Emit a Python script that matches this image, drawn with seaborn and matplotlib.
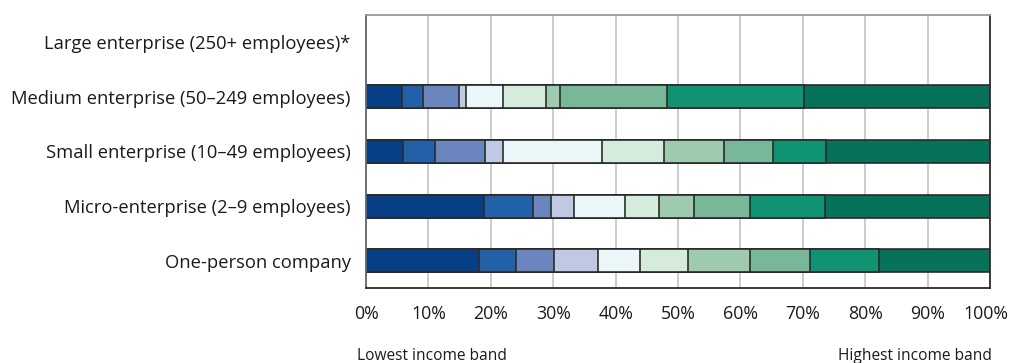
import numpy as np
import pandas as pd
import matplotlib
matplotlib.use("Agg")
import matplotlib.pyplot as plt
import matplotlib.transforms as mtransforms
import seaborn as sns

# Share of each company-size group falling in each income band (%), lowest to highest
categories = [
    "Large enterprise (250+ employees)*",
    "Medium enterprise (50\u2013249 employees)",
    "Small enterprise (10\u201349 employees)",
    "Micro-enterprise (2\u20139 employees)",
    "One-person company",
]
bands = [f"Band {i}" for i in range(1, 11)]

large_shares = [np.nan] * 10
medium_shares = [5.7, 3.4, 5.8, 1.2, 5.8, 6.9, 2.3, 17.2, 21.9, 29.8]
small_shares = [5.9, 5.1, 8.0, 2.9, 15.9, 10.0, 9.5, 8.0, 8.4, 26.3]
micro_shares = [18.9, 7.8, 2.9, 3.7, 8.2, 5.5, 5.6, 8.9, 12.1, 26.4]
one_person_shares = [18.1, 6.0, 6.1, 7.0, 6.7, 7.7, 9.9, 9.7, 11.0, 17.8]

band_colors = ["#063f85", "#2261a8", "#6b86bf", "#bfc9e4", "#ebf6f8",
               "#d5ecdc", "#9ecbad", "#78b898", "#0f9373", "#07725a"]

tick_values = [0, 10, 20, 30, 40, 50, 60, 70, 80, 90, 100]
tick_labels = [f"{v}%" for v in tick_values]

rows = [large_shares, medium_shares, small_shares, micro_shares, one_person_shares]
df = pd.DataFrame(rows, index=categories, columns=bands)
cum = df.cumsum(axis=1)

sns.set_theme(style="white")
plt.rcParams["font.family"] = ["Open Sans", "DejaVu Sans"]

fig = plt.figure(figsize=(10.10, 3.63), dpi=100)
ax = fig.add_axes([0.3624, 0.2066, 0.6178, 0.7521])

# vertical grid behind the bars
for v in tick_values:
    ax.axvline(v, color="#c8c8cc", lw=1.3, zorder=0)

# stacked bars: draw cumulative totals from the widest down so each band sits on top
for i in range(len(bands) - 1, -1, -1):
    sub = pd.DataFrame({"category": categories, "value": cum.iloc[:, i].values})
    sns.barplot(data=sub, x="value", y="category", order=categories,
                color=band_colors[i], saturation=1, width=0.42,
                edgecolor="#2b2b2b", linewidth=1.2, ax=ax, zorder=2)

ax.set_xlim(0, 100)
ax.set_ylim(4.5, -0.5)
ax.set_xlabel("")
ax.set_ylabel("")
ax.set_xticks(tick_values)
ax.set_xticklabels(tick_labels, fontsize=12.8, color="#1a1a1a")
ax.tick_params(axis="x", direction="inout", length=10, width=1.1, color="#333333", pad=7)
ax.set_yticks(range(len(categories)))
ax.set_yticklabels(categories, fontsize=13.2, color="#1a1a1a")
ax.tick_params(axis="y", which="major", length=0, pad=11)
ax.set_yticks(np.arange(-0.5, len(categories)), minor=True)
ax.tick_params(axis="y", which="minor", direction="out", length=7, width=1.3, color="#666666")

# keep the last tick label inside the figure edge
last = ax.get_xticklabels()[-1]
last.set_transform(last.get_transform() + mtransforms.ScaledTranslation(-4 / 100, 0, fig.dpi_scale_trans))

for side, col in [("left", "#666666"), ("top", "#999999"), ("right", "#2b2b2b"), ("bottom", "#2b2b2b")]:
    ax.spines[side].set_visible(True)
    ax.spines[side].set_color(col)
    ax.spines[side].set_linewidth(1.3)

fig.text(0.3535, 0.008, "Lowest income band", fontsize=11.2, color="#1a1a1a", ha="left", va="baseline")
fig.text(0.982, 0.008, "Highest income band", fontsize=11.2, color="#1a1a1a", ha="right", va="baseline")

fig.savefig("out.png", dpi=100)
